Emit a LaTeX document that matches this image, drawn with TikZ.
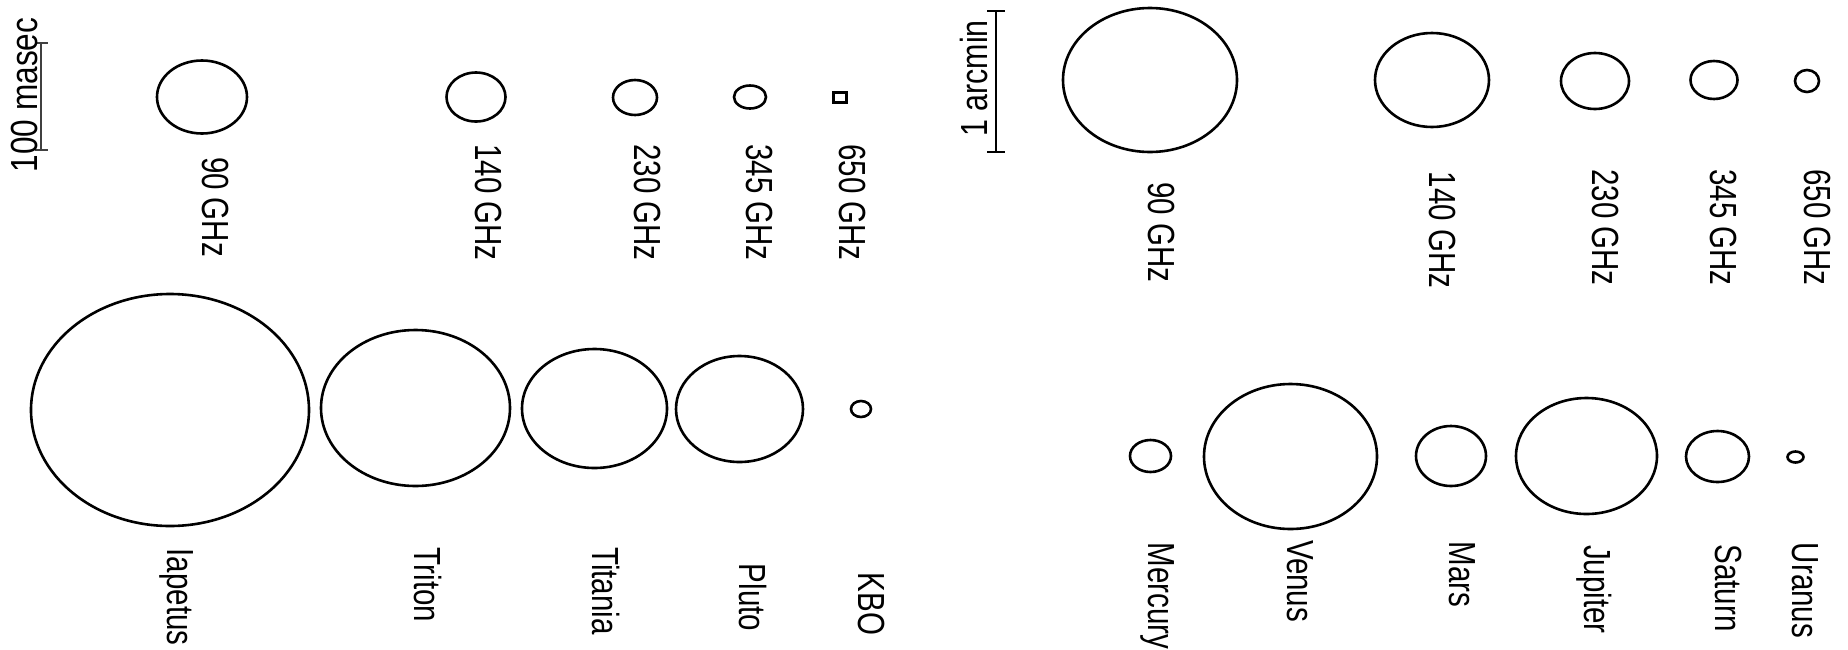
\documentclass[tikz,border=0pt]{standalone}
\usepackage{fontspec}
\setmainfont{Liberation Sans}
\newcommand\stx[1]{\scalebox{1}[1.28]{#1}}
\begin{document}
\begin{tikzpicture}[x=1pt,y=-1pt,
  lbl/.style={rotate=-90, anchor=base, inner sep=0pt, font=\fontsize{29.5}{30}\selectfont},
  sbl/.style={rotate=90, anchor=base, inner sep=0pt, font=\fontsize{29.5}{30}\selectfont},
  body/.style={draw=black, line width=2.6pt},
  barline/.style={draw=black, line width=2.8pt},
  thinbar/.style={draw=black!75, line width=2.2pt}]
\useasboundingbox (0,0) rectangle (1848,649);
% ---------- top left: beams at 100 masec scale ----------
\coordinate (mt) at (41,43); \coordinate (mb) at (41,150);
\coordinate (mtl) at (35,43); \coordinate (mtr) at (48,43);
\coordinate (mbl) at (35,150); \coordinate (mbr) at (48,150);
\draw[thinbar] (mt) -- (mb);
\draw[thinbar] (mtl) -- (mtr);
\draw[thinbar] (mbl) -- (mbr);
\node[sbl] (lmas) at (37.5,95) {\scalebox{1.07}[1.28]{100 masec}};
\draw[body] (202,97) ellipse (45 and 36.5);
\draw[body] (476,97) ellipse (29.5 and 24.5);
\draw[body] (635,97.5) ellipse (22 and 17.5);
\draw[body] (750,97) ellipse (16 and 11.5);
\draw[body] (833.5,92.5) rectangle (846.5,102.5);
\node[lbl] (a90) at (202.5,207) {\stx{90 GHz}};
\node[lbl] (a140) at (475.5,202.5) {\stx{140 GHz}};
\node[lbl] (a230) at (634.5,202.5) {\stx{230 GHz}};
\node[lbl] (a345) at (746.5,202.5) {\stx{345 GHz}};
\node[lbl] (a650) at (839.5,202.5) {\stx{650 GHz}};
% ---------- top right: beams at 1 arcmin scale ----------
\coordinate (at) at (996,11); \coordinate (ab) at (996,152);
\coordinate (atl) at (987,11); \coordinate (atr) at (1005,11);
\coordinate (abl) at (987,152); \coordinate (abr) at (1005,152);
\draw[barline] (at) -- (ab);
\draw[barline] (atl) -- (atr);
\draw[barline] (abl) -- (abr);
\node[sbl] (larc) at (987.5,78.5) {\scalebox{1.03}[1.28]{1 arcmin}};
\draw[body] (1150,80) ellipse (87 and 72);
\draw[body] (1432,80) ellipse (57 and 47);
\draw[body] (1595,81) ellipse (34 and 28);
\draw[body] (1714,80) ellipse (23.5 and 19);
\draw[body] (1807,81) ellipse (12 and 11);
\node[lbl] (b90) at (1148.5,232.5) {\stx{90 GHz}};
\node[lbl] (b140) at (1429.5,230) {\stx{140 GHz}};
\node[lbl] (b230) at (1592.5,227.5) {\stx{230 GHz}};
\node[lbl] (b345) at (1710.5,227.5) {\stx{345 GHz}};
\node[lbl] (b650) at (1804.5,227.5) {\stx{650 GHz}};
% ---------- bottom left: outer solar system bodies ----------
\draw[body] (170,410) ellipse (139 and 116);
\draw[body] (415.5,408) ellipse (94.5 and 78);
\draw[body] (594.5,408.5) ellipse (72.5 and 59.5);
\draw[body] (739.5,409) ellipse (63.5 and 53);
\draw[body] (861,409) ellipse (10 and 8);
\node[lbl] (iap) at (167.5,597) {\stx{Iapetus}};
\node[lbl] (tri) at (414.5,585) {\stx{Triton}};
\node[lbl] (tit) at (592.5,591) {\stx{Titania}};
\node[lbl] (plu) at (739.5,597.5) {\stx{Pluto}};
\node[lbl] (kbo) at (858.5,604) {\stx{KBO}};
% ---------- bottom right: planets ----------
\draw[body] (1150.5,456) ellipse (20.5 and 16);
\draw[body] (1290.5,456.5) ellipse (86.5 and 72.5);
\draw[body] (1451,456) ellipse (35 and 30);
\draw[body] (1586.5,456) ellipse (70.5 and 58);
\draw[body] (1717.5,456.5) ellipse (31.5 and 25.5);
\draw[body] (1795.5,457) ellipse (8 and 5.5);
\node[lbl] (mer) at (1148.5,596) {\stx{Mercury}};
\node[lbl] (ven) at (1287.5,581) {\stx{Venus}};
\node[lbl] (mar) at (1449.5,574.5) {\stx{Mars}};
\node[lbl] (jup) at (1584.5,589.5) {\stx{Jupiter}};
\node[lbl] (sat) at (1715.5,588) {\stx{Saturn}};
\node[lbl] (ura) at (1792.5,590.5) {\stx{Uranus}};
\end{tikzpicture}
\end{document}
